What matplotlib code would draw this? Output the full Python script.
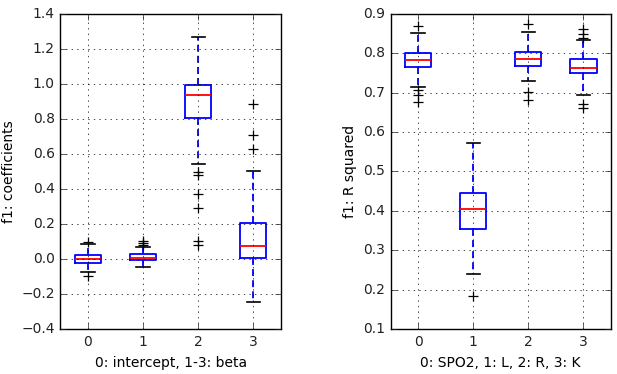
import numpy as np
import matplotlib
matplotlib.use('Agg')
import matplotlib.pyplot as plt

# box statistics
coef_med = [0.0, 0.004, 0.937, 0.073]
coef_q1 = [-0.021, -0.006, 0.806, 0.005]
coef_q3 = [0.023, 0.027, 0.994, 0.207]
coef_lo = [-0.074, -0.043, 0.543, -0.246]
coef_hi = [0.086, 0.066, 1.265, 0.505]
coef_fliers = [
    [0.095, -0.095],
    [0.078, 0.091, 0.105],
    [0.497, 0.48, 0.37, 0.29, 0.105, 0.08],
    [0.886, 0.709, 0.627],
]

r2_med = [0.784, 0.404, 0.786, 0.763]
r2_q1 = [0.766, 0.355, 0.768, 0.749]
r2_q3 = [0.8015, 0.446, 0.804, 0.785]
r2_lo = [0.715, 0.241, 0.729, 0.694]
r2_hi = [0.852, 0.573, 0.854, 0.834]
r2_fliers = [
    [0.870, 0.707, 0.695, 0.677],
    [0.184],
    [0.873, 0.702, 0.681],
    [0.862, 0.849, 0.838, 0.671, 0.662],
]

positions = [0, 1, 2, 3]


def make_stats(med, q1, q3, lo, hi, fliers):
    stats = []
    for i in range(len(med)):
        stats.append(dict(med=med[i], q1=q1[i], q3=q3[i], whislo=lo[i],
                          whishi=hi[i], fliers=fliers[i]))
    return stats


plt.style.use('classic')
plt.rcParams['font.family'] = 'DejaVu Sans'
plt.rcParams['font.size'] = 10

fig = plt.figure(figsize=(6.17, 3.74), dpi=100, facecolor='white')
ax1 = fig.add_axes([0.098, 0.120, 0.357, 0.843])
ax2 = fig.add_axes([0.633, 0.120, 0.357, 0.843])

kw = dict(positions=positions, widths=0.48,
          boxprops=dict(color='blue', linewidth=1.3),
          medianprops=dict(color='red', linewidth=1.3),
          whiskerprops=dict(color='blue', linestyle=(0, (5, 3)), linewidth=1.3),
          capprops=dict(color='black', linewidth=1.2),
          flierprops=dict(marker='+', markeredgecolor='black', markersize=7,
                          markeredgewidth=0.9, linestyle='none'))

ax1.bxp(make_stats(coef_med, coef_q1, coef_q3, coef_lo, coef_hi, coef_fliers), **kw)
ax2.bxp(make_stats(r2_med, r2_q1, r2_q3, r2_lo, r2_hi, r2_fliers), **kw)

ax1.set_ylim(-0.4, 1.4)
ax1.set_yticks(np.arange(-0.4, 1.41, 0.2))
ax1.set_ylabel('f1: coefficients', labelpad=4)
ax1.set_xlabel('0: intercept, 1-3: beta')

ax2.set_ylim(0.1, 0.9)
ax2.set_yticks(np.arange(0.1, 0.91, 0.1))
ax2.set_ylabel('f1: R squared', labelpad=4)
ax2.set_xlabel('0: SPO2, 1: L, 2: R, 3: K')

for ax in (ax1, ax2):
    ax.set_xlim(-0.5, 3.5)
    ax.set_xticks(positions)
    ax.set_xticklabels(['0', '1', '2', '3'])
    ax.grid(True, color='black', linestyle=':', linewidth=0.5)
    ax.tick_params(colors='#222222')

plt.savefig('out.png', dpi=100, facecolor='white')
